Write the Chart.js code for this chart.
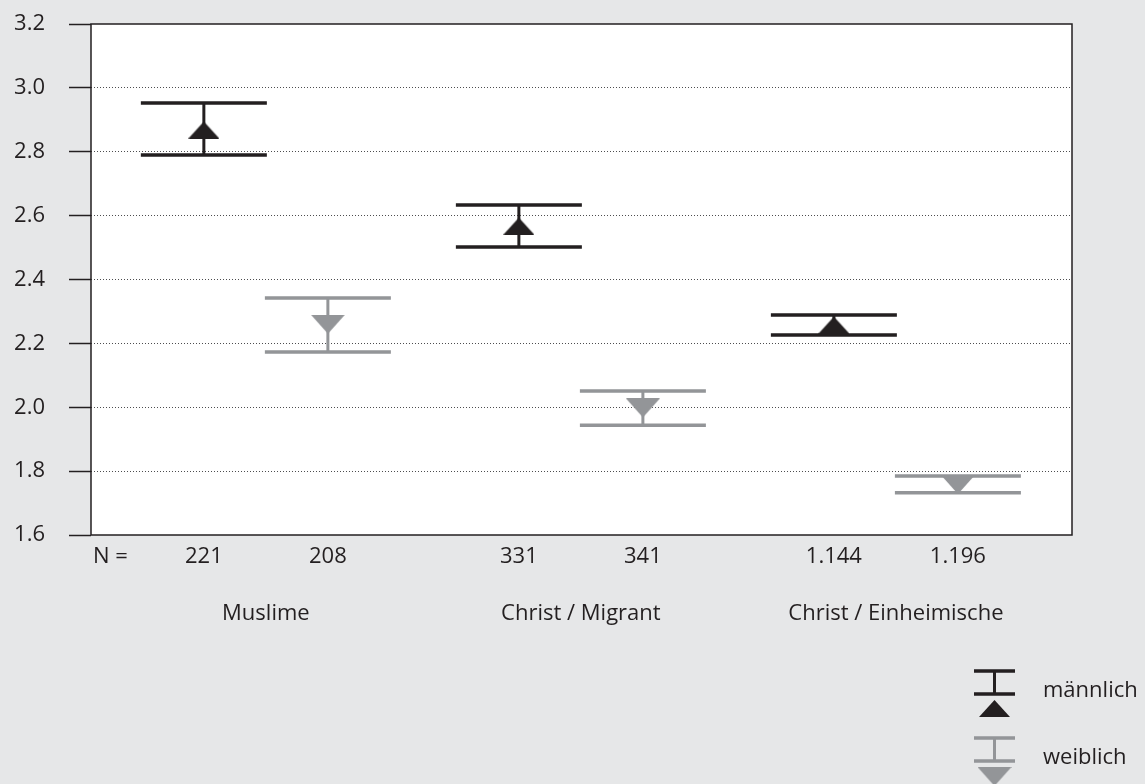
<!DOCTYPE html>
<html>
<head>
<meta charset="utf-8">
<script src="https://cdn.jsdelivr.net/npm/chart.js@4.4.1/dist/chart.umd.min.js"></script>
<style>
  html, body { margin: 0; padding: 0; background: #e6e7e8; }
  #wrap { width: 1145px; height: 784px; }
</style>
</head>
<body>
<div id="wrap"><canvas id="meansChart"></canvas></div>
<script>
// groups and case counts
const groups = ["Muslime", "Christ / Migrant", "Christ / Einheimische"];
const xPositions = [1, 2, 3.54, 4.54, 6.08, 7.08];
const nLabels = ["221", "208", "331", "341", "1.144", "1.196"];
const yTicks = [1.6, 1.8, 2.0, 2.2, 2.4, 2.6, 2.8, 3.0, 3.2];

// männlich: mean + confidence interval
const maleMean = [2.868, 2.567, 2.257];
const maleLow = [2.790, 2.502, 2.226];
const maleHigh = [2.953, 2.633, 2.289];

// weiblich: mean + confidence interval
const femaleMean = [2.260, 1.998, 1.758];
const femaleLow = [2.173, 1.944, 1.732];
const femaleHigh = [2.342, 2.051, 1.785];

const DARK = '#231f20';
const GREY = '#939598';
const FONT = "'Open Sans', sans-serif";
const FSIZE = 22;

// flat triangle used as point marker
function triangleMarker(color, w, h, down) {
    const c = document.createElement('canvas');
    c.width = w;
    c.height = h;
    const ctx = c.getContext('2d');
    ctx.fillStyle = color;
    ctx.beginPath();
    if (down) {
        ctx.moveTo(0, 0); ctx.lineTo(w, 0); ctx.lineTo(w / 2, h);
    } else {
        ctx.moveTo(w / 2, 0); ctx.lineTo(w, h); ctx.lineTo(0, h);
    }
    ctx.closePath();
    ctx.fill();
    return c;
}

const maleMarker = triangleMarker(DARK, 31, 17, false);
const femaleMarker = triangleMarker(GREY, 34, 19, true);

// white plot area + frame
const plotFrame = {
    id: 'plotFrame',
    beforeDraw(chart) {
        const { ctx, chartArea: a } = chart;
        ctx.save();
        ctx.fillStyle = '#ffffff';
        ctx.fillRect(a.left, a.top, a.right - a.left, a.bottom - a.top);
        ctx.restore();
    },
    beforeDatasetsDraw(chart) {
        const { ctx, chartArea: a } = chart;
        ctx.save();
        ctx.strokeStyle = DARK;
        ctx.lineWidth = 1.5;
        ctx.strokeRect(a.left, a.top, a.right - a.left, a.bottom - a.top);
        ctx.restore();
    }
};

// I-beams for the confidence intervals
const errorBars = {
    id: 'errorBars',
    beforeDatasetsDraw(chart) {
        const { ctx } = chart;
        const xs = chart.scales.x, ys = chart.scales.y;
        const half = 63;
        chart.data.datasets.forEach(ds => {
            ctx.save();
            ctx.strokeStyle = ds.borderColor;
            ds.data.forEach((pt, i) => {
                const px = xs.getPixelForValue(pt.x);
                const top = ys.getPixelForValue(ds.high[i]);
                const bot = ys.getPixelForValue(ds.low[i]);
                ctx.lineWidth = 3;
                ctx.beginPath();
                ctx.moveTo(px, top);
                ctx.lineTo(px, bot);
                ctx.stroke();
                ctx.lineWidth = 3.5;
                ctx.beginPath();
                ctx.moveTo(px - half, top); ctx.lineTo(px + half, top);
                ctx.moveTo(px - half, bot); ctx.lineTo(px + half, bot);
                ctx.stroke();
            });
            ctx.restore();
        });
    }
};

// "N =", group names and the legend at the bottom right
const extraText = {
    id: 'extraText',
    afterDraw(chart) {
        const { ctx, chartArea: a } = chart;
        const xs = chart.scales.x;
        ctx.save();
        ctx.fillStyle = DARK;
        ctx.font = FSIZE + "px " + FONT;
        ctx.textBaseline = 'middle';
        ctx.textAlign = 'left';
        ctx.fillText('N =', a.left + 2, a.bottom + 22);

        ctx.textAlign = 'center';
        groups.forEach((g, i) => {
            const cx = xs.getPixelForValue((xPositions[i * 2] + xPositions[i * 2 + 1]) / 2);
            ctx.fillText(g, cx, a.bottom + 79);
        });

        const items = [
            { label: 'männlich', color: DARK, marker: maleMarker, y: 671 },
            { label: 'weiblich', color: GREY, marker: femaleMarker, y: 738 }
        ];
        items.forEach(it => {
            const x0 = 974, x1 = 1015, cx = (x0 + x1) / 2;
            ctx.strokeStyle = it.color;
            ctx.lineWidth = 3.5;
            ctx.beginPath();
            ctx.moveTo(x0, it.y); ctx.lineTo(x1, it.y);
            ctx.moveTo(x0, it.y + 23); ctx.lineTo(x1, it.y + 23);
            ctx.stroke();
            ctx.lineWidth = 3;
            ctx.beginPath();
            ctx.moveTo(cx, it.y); ctx.lineTo(cx, it.y + 23);
            ctx.stroke();
            ctx.drawImage(it.marker, cx - it.marker.width / 2, it.y + 29);
            ctx.fillStyle = DARK;
            ctx.textAlign = 'left';
            ctx.textBaseline = 'alphabetic';
            ctx.fillText(it.label, 1043, it.y + 26);
        });
        ctx.restore();
    }
};

const maleData = maleMean.map((v, i) => ({ x: xPositions[i * 2], y: v }));
const femaleData = femaleMean.map((v, i) => ({ x: xPositions[i * 2 + 1], y: v }));

new Chart(document.getElementById('meansChart'), {
    type: 'scatter',
    data: {
        datasets: [{
            label: 'männlich',
            data: maleData,
            low: maleLow,
            high: maleHigh,
            borderColor: DARK,
            backgroundColor: DARK,
            pointStyle: maleMarker
        }, {
            label: 'weiblich',
            data: femaleData,
            low: femaleLow,
            high: femaleHigh,
            borderColor: GREY,
            backgroundColor: GREY,
            pointStyle: femaleMarker
        }]
    },
    options: {
        responsive: true,
        maintainAspectRatio: false,
        animation: false,
        layout: { padding: { top: 24, right: 73, left: 0, bottom: 0 } },
        plugins: {
            legend: { display: false },
            tooltip: { enabled: false }
        },
        scales: {
            x: {
                type: 'linear',
                min: 0.09,
                max: 8.0,
                afterBuildTicks: s => { s.ticks = xPositions.map(v => ({ value: v })); },
                afterFit: s => { s.height = 249; },
                grid: { display: false, drawTicks: false },
                border: { display: false },
                ticks: {
                    autoSkip: false,
                    maxRotation: 0,
                    padding: 9,
                    color: DARK,
                    font: { family: FONT, size: FSIZE },
                    callback: (v, i) => nLabels[i]
                }
            },
            y: {
                min: 1.6,
                max: 3.2,
                afterBuildTicks: s => { s.ticks = yTicks.map(v => ({ value: v })); },
                afterFit: s => {
                    s.width = 91;
                    s.paddingTop = 0;
                    s.paddingBottom = 0;
                },
                grid: {
                    color: c => (c.tick && (c.tick.value === 1.6 || c.tick.value === 3.2)) ? 'rgba(0,0,0,0)' : '#4d4d4f',
                    lineWidth: 1,
                    tickLength: 22,
                    tickColor: DARK,
                    tickWidth: 1.5
                },
                border: { display: false, dash: [1, 2] },
                ticks: {
                    padding: 24,
                    color: DARK,
                    font: { family: FONT, size: FSIZE },
                    callback: v => v.toFixed(1)
                }
            }
        }
    },
    plugins: [plotFrame, errorBars, extraText]
});
</script>
</body>
</html>
